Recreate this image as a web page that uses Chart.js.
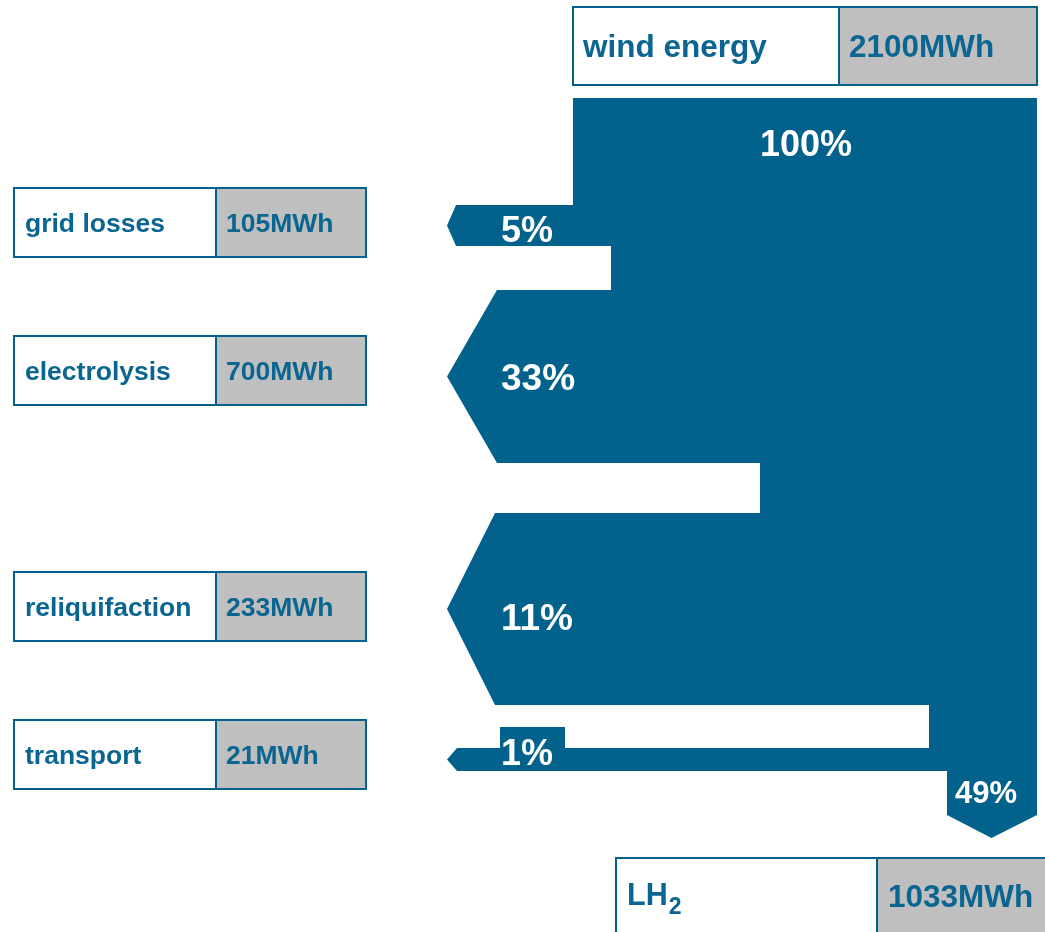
<!DOCTYPE html>
<html>
<head>
<meta charset="utf-8">
<script src="https://cdn.jsdelivr.net/npm/chart.js@4.4.1/dist/chart.umd.min.js"></script>
<style>
  html,body{margin:0;padding:0;background:#fff;}
  #wrap{position:relative;width:1045px;height:932px;}
</style>
</head>
<body>
<div id="wrap"><canvas id="ch"></canvas></div>
<script>
// ── data ──────────────────────────────────────────
const sourceName = 'wind energy';
const sourceMWh = 2100;
const sourcePct = 100;
const flowNames = ['grid losses', 'electrolysis', 'reliquifaction', 'transport'];
const flowMWh = [105, 700, 233, 21];
const flowPct = [5, 33, 11, 1];
const productName = 'LH';
const productSub = '2';
const productMWh = 1033;
const productPct = 49;

// ── layout (axis units = px of the 1045x932 picture) ──
const BLUE = '#02628c', GREY = '#bfbfbf', TXT = '#0a6590';
const trunkTop = 98, trunkLeft = 573, trunkRight = 1037;
const bandTop = [205, 290, 513, 748];
const bandBottom = [246, 463, 705, 771];
const bandCorner = [456, 497, 495, 457];
const trunkAfter = [611, 760, 929, 947];
const tipX = 447;
const outBottom = 815, outTip = 838;
const boxTop = [188, 336, 572, 720], boxH = 69;
const boxLeft = 14, boxSplit = 216, boxRight = 366;
const pctY = [229, 377, 617, 752];

function pt(x, y){ return {x, y}; }
function rect(x1, y1, x2, y2){ return [pt(x1,y1), pt(x2,y1), pt(x2,y2), pt(x1,y2), pt(x1,y1), pt(x2,y1)]; }

// main flow outline
const flowPts = [pt(trunkLeft, trunkTop), pt(trunkRight, trunkTop), pt(trunkRight, outBottom),
  pt((trunkAfter[3] + trunkRight) / 2 - 0.5, outTip), pt(trunkAfter[3], outBottom)];
for (let i = flowNames.length - 1; i >= 0; i--) {
  const before = i === 0 ? trunkLeft : trunkAfter[i - 1];
  const mid = (bandTop[i] + bandBottom[i]) / 2;
  flowPts.push(pt(trunkAfter[i], bandBottom[i]), pt(bandCorner[i], bandBottom[i]),
    pt(tipX, mid), pt(bandCorner[i], bandTop[i]), pt(before, bandTop[i]));
}
flowPts.push(pt(trunkLeft, trunkTop));

// borderDash keeps Chart.js off its fast path, so vertical edges are all drawn
const shape = (data, bg, border, bw) => ({
  data, showLine: true, fill: 'shape', backgroundColor: bg, borderColor: border,
  borderWidth: bw, borderDash: [5000, 0], pointRadius: 0, pointHoverRadius: 0,
  tension: 0, borderJoinStyle: 'miter'
});

const datasets = [shape(flowPts, BLUE, BLUE, 0), shape(rect(500, 727, 565, 771), BLUE, BLUE, 0)];
boxTop.forEach(t => {
  datasets.push(shape(rect(boxLeft, t, boxSplit, t + boxH), '#fff', BLUE, 2));
  datasets.push(shape(rect(boxSplit, t, boxRight, t + boxH), GREY, BLUE, 2));
});
datasets.push(shape(rect(573, 7, 839, 85), '#fff', BLUE, 2));
datasets.push(shape(rect(839, 7, 1037, 85), GREY, BLUE, 2));
datasets.push(shape(rect(616, 858, 877, 945), '#fff', BLUE, 2));
datasets.push(shape(rect(877, 858, 1050, 945), GREY, BLUE, 2));

const FONT = "'Liberation Sans', Arial, sans-serif";
const labels = {
  id: 'labels',
  afterDraw(c){
    const {ctx} = c, X = c.scales.x, Y = c.scales.y;
    const put = (txt, x, cy, size, color, align) => {
      ctx.font = `bold ${size}px ${FONT}`;
      ctx.fillStyle = color;
      ctx.textAlign = align || 'left';
      ctx.textBaseline = 'alphabetic';
      ctx.fillText(txt, X.getPixelForValue(x), Y.getPixelForValue(cy) + size * 0.358);
    };
    ctx.save();
    put(sourceName, 583, 46, 31.5, TXT);
    put(sourceMWh + 'MWh', 849, 46, 31.5, TXT);
    put(sourcePct + '%', 806, 143, 36, '#fff', 'center');
    flowNames.forEach((n, i) => {
      const cy = boxTop[i] + boxH / 2;
      put(n, 25, cy, 26.5, TXT);
      put(flowMWh[i] + 'MWh', 226, cy, 26.5, TXT);
      put(flowPct[i] + '%', 501, pctY[i], i === 1 || i === 2 ? 37 : 36, '#fff');
    });
    put(productName, 627, 894, 30.5, TXT);
    ctx.font = `bold 30.5px ${FONT}`;
    const lw = ctx.measureText(productName).width;
    put(productSub, 627 + lw + 1, 906, 23, TXT);
    put(productMWh + 'MWh', 888, 896, 31.5, TXT);
    put(productPct + '%', 955, 792, 31, '#fff');
    ctx.restore();
  }
};

new Chart(document.getElementById('ch'), {
  type: 'scatter',
  data: {datasets},
  options: {
    responsive: true, maintainAspectRatio: false, animation: false,
    layout: {padding: 0},
    plugins: {legend: {display: false}, tooltip: {enabled: false}},
    events: [],
    scales: {
      x: {type: 'linear', min: 0, max: 1045, display: false},
      y: {type: 'linear', min: 0, max: 932, reverse: true, display: false}
    }
  },
  plugins: [labels]
});
</script>
</body>
</html>
